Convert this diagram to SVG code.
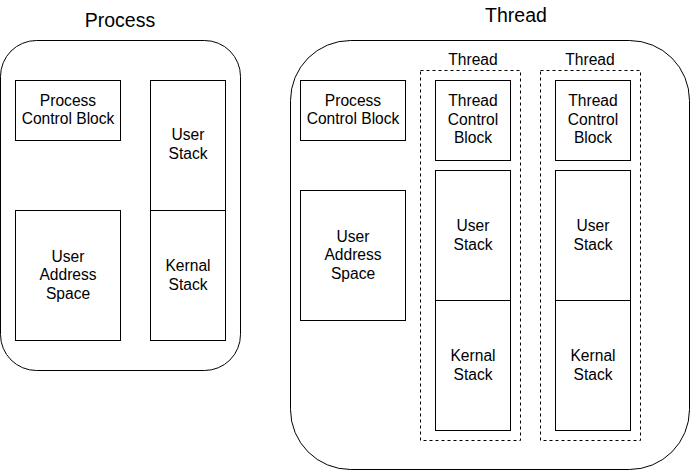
<svg xmlns="http://www.w3.org/2000/svg" width="691" height="471" viewBox="0 0 691 471">
<style>
  .box{fill:#fff;stroke:#000;stroke-width:1}
  .outer{fill:#fff;stroke:#000;stroke-width:1}
  .dash{fill:none;stroke:#000;stroke-width:1;stroke-dasharray:3 3}
  text{font-family:"Liberation Sans",Arial,sans-serif;fill:#000;text-anchor:middle}
  .t{font-size:15.6px}
  .title{font-size:19.5px}
</style>
<rect width="691" height="471" fill="#fff"/>
<g id="process-container">
  <rect class="outer" x="0.5" y="40.5" width="240" height="330" rx="36" ry="36"/>
  <text class="title" x="120" y="26.5">Process</text>
</g>
<g id="process-pcb">
  <rect class="box" x="15.5" y="80.5" width="105" height="60"/>
  <text class="t" x="68" y="106">Process</text>
  <text class="t" x="68" y="124.3">Control Block</text>
</g>
<g id="process-user-stack">
  <rect class="box" x="150.5" y="80.5" width="75" height="130"/>
  <text class="t" x="188" y="140">User</text>
  <text class="t" x="188" y="158.5">Stack</text>
</g>
<g id="process-kernal-stack">
  <rect class="box" x="150.5" y="210.5" width="75" height="130"/>
  <text class="t" x="188" y="271">Kernal</text>
  <text class="t" x="188" y="289.5">Stack</text>
</g>
<g id="process-uas">
  <rect class="box" x="15.5" y="210.5" width="105" height="130"/>
  <text class="t" x="68" y="261.5">User</text>
  <text class="t" x="68" y="280">Address</text>
  <text class="t" x="68" y="298.5">Space</text>
</g>

<g id="thread-container">
  <rect class="outer" x="290.5" y="40.5" width="399" height="429" rx="60" ry="60"/>
  <text class="title" x="516" y="22">Thread</text>
</g>
<g id="thread-pcb">
  <rect class="box" x="300.5" y="80.5" width="105" height="60"/>
  <text class="t" x="353" y="106">Process</text>
  <text class="t" x="353" y="124.3">Control Block</text>
</g>
<g id="thread-uas">
  <rect class="box" x="300.5" y="190.5" width="105" height="130"/>
  <text class="t" x="353" y="241.5">User</text>
  <text class="t" x="353" y="260">Address</text>
  <text class="t" x="353" y="278.5">Space</text>
</g>

<g id="thread1">
  <rect class="dash" x="420.5" y="70.5" width="100" height="370"/>
  <text class="t" x="473" y="65">Thread</text>
</g>
<g id="thread1-tcb">
  <rect class="box" x="435.5" y="80.5" width="75" height="80"/>
  <text class="t" x="473" y="106">Thread</text>
  <text class="t" x="473" y="124.5">Control</text>
  <text class="t" x="473" y="143">Block</text>
</g>
<g id="thread1-user-stack">
  <rect class="box" x="435.5" y="170.5" width="75" height="130"/>
  <text class="t" x="473" y="231">User</text>
  <text class="t" x="473" y="249.5">Stack</text>
</g>
<g id="thread1-kernal-stack">
  <rect class="box" x="435.5" y="300.5" width="75" height="130"/>
  <text class="t" x="473" y="361">Kernal</text>
  <text class="t" x="473" y="379.5">Stack</text>
</g>

<g id="thread2">
  <rect class="dash" x="540.5" y="70.5" width="100" height="370"/>
  <text class="t" x="590" y="65">Thread</text>
</g>
<g id="thread2-tcb">
  <rect class="box" x="555.5" y="80.5" width="75" height="80"/>
  <text class="t" x="593" y="106">Thread</text>
  <text class="t" x="593" y="124.5">Control</text>
  <text class="t" x="593" y="143">Block</text>
</g>
<g id="thread2-user-stack">
  <rect class="box" x="555.5" y="170.5" width="75" height="130"/>
  <text class="t" x="593" y="231">User</text>
  <text class="t" x="593" y="249.5">Stack</text>
</g>
<g id="thread2-kernal-stack">
  <rect class="box" x="555.5" y="300.5" width="75" height="130"/>
  <text class="t" x="593" y="361">Kernal</text>
  <text class="t" x="593" y="379.5">Stack</text>
</g>
<g id="connectors"></g>
</svg>
